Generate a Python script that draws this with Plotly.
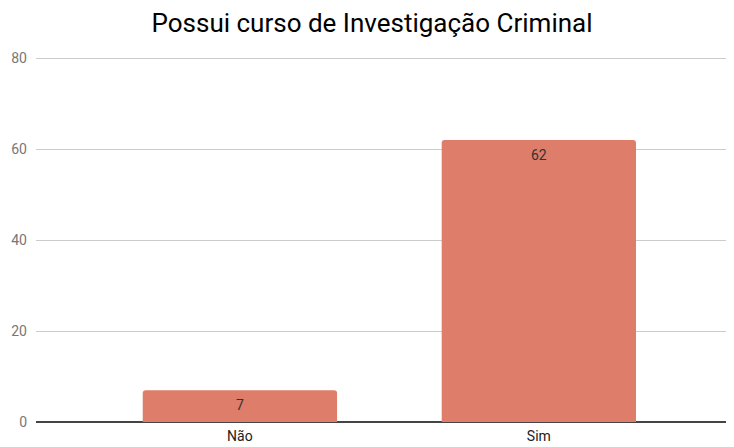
import plotly.graph_objects as go

categorias = ["Não", "Sim"]
valores = [7, 62]
ticks_y = [0, 20, 40, 60, 80]

fig = go.Figure(go.Bar(
    x=categorias,
    y=valores,
    marker=dict(color="#DE7D6A", cornerradius=3, line=dict(width=0)),
    width=0.65,
))

# rótulos de dados dentro das barras, perto do topo
for c, v in zip(categorias, valores):
    fig.add_annotation(x=c, y=v, text=str(v), showarrow=False, yanchor="top", yshift=-5,
                       font=dict(family="Roboto", size=14, color="#333333"))

fig.update_layout(
    title=dict(text="Possui curso de Investigação Criminal", x=0.507, xanchor="center",
               y=0.966, yanchor="middle",
               font=dict(family="Roboto", size=26, color="#000000")),
    width=718, height=439,
    margin=dict(l=28, r=0, t=49, b=25),
    plot_bgcolor="white", paper_bgcolor="white",
    showlegend=False,
    font=dict(family="Roboto"),
)
fig.update_xaxes(range=[-0.682, 1.626], showgrid=False, ticks="",
                 tickfont=dict(size=14, color="#222222"), ticklabelstandoff=4)
fig.update_yaxes(range=[0, 80.25], tickvals=ticks_y, gridcolor="#CCCCCC", gridwidth=1,
                 zeroline=True, zerolinecolor="#444444", zerolinewidth=1.5,
                 tickfont=dict(size=14, color="#777777"), ticks="", ticklabelstandoff=8)

fig.write_html("out.html")
